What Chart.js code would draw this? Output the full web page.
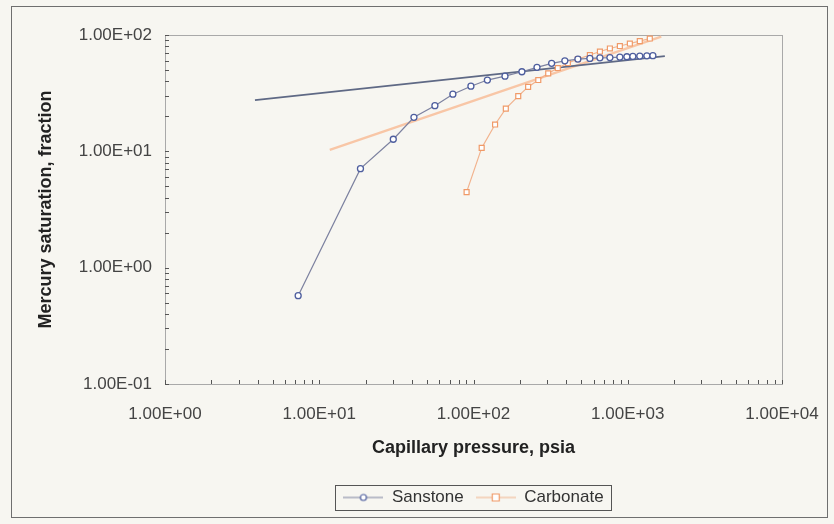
<!DOCTYPE html>
<html>
<head>
<meta charset="utf-8">
<script src="https://cdn.jsdelivr.net/npm/chart.js@4.4.1/dist/chart.umd.min.js"></script>
<style>
  html, body { margin: 0; padding: 0; background: #f7f6f1; }
</style>
</head>
<body>
<canvas id="myChart" width="834" height="524"></canvas>
<script>
// Sandstone mercury injection points (pressure psia, saturation)
const sandPressure = [7.3, 18.5, 30.2, 41.1, 56.2, 73.5, 96.2, 123, 160, 206, 258, 321, 391, 475, 568, 660, 766, 889, 987, 1079, 1197, 1330, 1455];
const sandSaturation = [0.574, 7.10, 12.7, 19.6, 24.7, 31.0, 36.3, 41.0, 44.3, 48.3, 52.7, 57.1, 60.0, 62.1, 62.9, 63.7, 64.0, 64.6, 65.0, 65.5, 65.9, 66.2, 66.4];

// Carbonate points
const carbPressure = [90.2, 113, 138, 162, 195, 226, 263, 305, 352, 409, 475, 568, 660, 766, 889, 1032, 1197, 1390];
const carbSaturation = [4.46, 10.7, 17.0, 23.3, 29.8, 35.8, 41.0, 46.8, 52.0, 57.4, 62.1, 67.3, 72.1, 76.6, 80.4, 84.5, 88.7, 93.3];

// power trendlines (straight on log-log), end points only
const sandTrendPressure = [3.83, 1740];
const sandTrendSaturation = [27.5, 65.9];
const carbTrendPressure = [11.7, 1650];
const carbTrendSaturation = [10.3, 97];

// axis decades
const xDecades = [1, 10, 100, 1000, 10000];
const yDecades = [0.1, 1, 10, 100];

const seriesNames = ['Sanstone', 'Carbonate'];

function toPoints(xs, ys) {
  return xs.map((x, i) => ({ x: x, y: ys[i] }));
}

// 1..9 times each decade
function logTicks(decades) {
  const out = [];
  decades.forEach((d, i) => {
    if (i === decades.length - 1) { out.push(d); return; }
    for (let k = 1; k <= 9; k++) out.push(+(d * k).toPrecision(6));
  });
  return out;
}
const xTickValues = logTicks(xDecades);
const yTickValues = logTicks(yDecades);

function decadeLabel(v, decades) {
  if (!decades.includes(v)) return '';
  const e = Math.round(Math.log10(v));
  return '1.00E' + (e < 0 ? '-' : '+') + String(Math.abs(e)).padStart(2, '0');
}

// small canvases for the legend: line with marker in the middle
function legendIcon(lineColor, markColor, shape) {
  const c = document.createElement('canvas');
  c.width = 40; c.height = 12;
  const g = c.getContext('2d');
  g.strokeStyle = lineColor;
  g.lineWidth = 1.2;
  g.beginPath(); g.moveTo(0, 6); g.lineTo(40, 6); g.stroke();
  g.fillStyle = '#ffffff';
  g.strokeStyle = markColor;
  g.beginPath();
  if (shape === 'circle') g.arc(20, 6, 3, 0, Math.PI * 2);
  else g.rect(16.5, 2.5, 7, 7);
  g.fill(); g.stroke();
  return c;
}

const sandLine = '#7d82a0', sandMark = '#4e5e9e', sandTrend = '#5f6985';
const carbLine = '#f2b38e', carbMark = '#f09a68', carbTrend = '#f8c6a6';

const icons = [legendIcon(sandLine, sandMark, 'circle'), legendIcon(carbLine, carbMark, 'rect')];

const decor = {
  id: 'decor',
  beforeDraw(chart) {
    const ctx = chart.ctx;
    ctx.save();
    ctx.fillStyle = '#f7f6f1';
    ctx.fillRect(0, 0, chart.width, chart.height);
    ctx.strokeStyle = '#6f6f6f';
    ctx.lineWidth = 1;
    ctx.strokeRect(11.5, 6.5, 816, 511);
    ctx.restore();
  },
  beforeDatasetsDraw(chart) {
    const a = chart.chartArea, ctx = chart.ctx;
    ctx.save();
    ctx.strokeStyle = '#a9a9a9';
    ctx.lineWidth = 1;
    ctx.strokeRect(a.left + 0.5, a.top + 0.5, a.right - a.left, a.bottom - a.top);
    ctx.restore();
  },
  afterDraw(chart) {
    const ctx = chart.ctx, a = chart.chartArea;
    const xs = chart.scales.x, ys = chart.scales.y;
    ctx.save();
    ctx.strokeStyle = '#555';
    ctx.lineWidth = 1;
    ctx.beginPath();
    xTickValues.forEach(v => {
      const px = Math.round(xs.getPixelForValue(v)) + 0.5;
      ctx.moveTo(px, a.bottom); ctx.lineTo(px, a.bottom - 4);
    });
    yTickValues.forEach(v => {
      const py = Math.round(ys.getPixelForValue(v)) + 0.5;
      ctx.moveTo(a.left, py); ctx.lineTo(a.left + 4, py);
    });
    ctx.stroke();
    // frame round the legend
    const boxes = chart.legend.legendHitBoxes;
    if (boxes && boxes.length) {
      let l = Infinity, r = -Infinity, t = Infinity, b = -Infinity;
      boxes.forEach(h => {
        l = Math.min(l, h.left); r = Math.max(r, h.left + h.width);
        t = Math.min(t, h.top); b = Math.max(b, h.top + h.height);
      });
      ctx.strokeStyle = '#555';
      ctx.strokeRect(Math.round(l - 8) + 0.5, Math.round(t - 4) + 0.5, Math.round(r - l + 16), Math.round(b - t + 8));
    }
    ctx.restore();
  }
};

const ctx = document.getElementById('myChart').getContext('2d');

const chart = new Chart(ctx, {
  type: 'scatter',
  data: {
    datasets: [
      {
        label: seriesNames[0],
        data: toPoints(sandPressure, sandSaturation),
        showLine: true,
        borderColor: sandLine,
        borderWidth: 1.2,
        pointStyle: 'circle',
        pointRadius: 3,
        pointBorderColor: sandMark,
        pointBackgroundColor: '#ffffff',
        pointBorderWidth: 1.3,
        order: 1
      },
      {
        label: seriesNames[1],
        data: toPoints(carbPressure, carbSaturation),
        showLine: true,
        borderColor: carbLine,
        borderWidth: 1.2,
        pointStyle: 'rect',
        pointRadius: 3.5,
        pointBorderColor: carbMark,
        pointBackgroundColor: '#ffffff',
        pointBorderWidth: 1.2,
        order: 2
      },
      {
        label: 'sand trend',
        data: toPoints(sandTrendPressure, sandTrendSaturation),
        showLine: true,
        borderColor: sandTrend,
        borderWidth: 1.8,
        pointRadius: 0,
        order: 3
      },
      {
        label: 'carb trend',
        data: toPoints(carbTrendPressure, carbTrendSaturation),
        showLine: true,
        borderColor: carbTrend,
        borderWidth: 2.4,
        pointRadius: 0,
        order: 4
      }
    ]
  },
  options: {
    responsive: false,
    animation: false,
    events: [],
    layout: { padding: { left: 14, right: 52, top: 35, bottom: 8 } },
    plugins: {
      tooltip: { enabled: false },
      legend: {
        position: 'bottom',
        fullSize: false,
        labels: {
          color: '#333',
          font: { family: 'Liberation Sans, Arial', size: 17 },
          usePointStyle: true,
          pointStyleWidth: 40,
          boxHeight: 12,
          padding: 12,
          filter: item => item.datasetIndex < 2,
          generateLabels: ch => ch.data.datasets.slice(0, 2).map((d, i) => ({
            text: d.label,
            pointStyle: icons[i],
            datasetIndex: i,
            fontColor: '#333',
            lineWidth: 0,
            hidden: false
          }))
        }
      }
    },
    scales: {
      x: {
        type: 'logarithmic',
        min: 1,
        max: 10000,
        afterBuildTicks: s => { s.ticks = xTickValues.map(v => ({ value: v, major: xDecades.includes(v) })); },
        afterFit: s => { s.height = 93; s.paddingRight = 20; },
        grid: { display: false, drawTicks: false },
        border: { display: true, color: '#555', width: 1 },
        ticks: {
          autoSkip: false,
          maxRotation: 0,
          padding: 20,
          color: '#444',
          font: { family: 'Liberation Sans, Arial', size: 17 },
          callback: v => decadeLabel(v, xDecades)
        },
        title: {
          display: true,
          text: 'Capillary pressure, psia',
          color: '#222',
          font: { family: 'Liberation Sans, Arial', size: 18, weight: 'bold' },
          padding: { top: 14, bottom: 18 }
        }
      },
      y: {
        type: 'logarithmic',
        min: 0.1,
        max: 100,
        afterBuildTicks: s => { s.ticks = yTickValues.map(v => ({ value: v, major: yDecades.includes(v) })); },
        afterFit: s => { s.width = 151; },
        grid: { display: false, drawTicks: false },
        border: { display: true, color: '#555', width: 1 },
        ticks: {
          autoSkip: false,
          padding: 13,
          color: '#444',
          font: { family: 'Liberation Sans, Arial', size: 17 },
          callback: v => decadeLabel(v, yDecades)
        },
        title: {
          display: true,
          text: 'Mercury saturation, fraction',
          color: '#222',
          font: { family: 'Liberation Sans, Arial', size: 18, weight: 'bold' },
          padding: { top: 21, bottom: 0 }
        }
      }
    }
  },
  plugins: [decor]
});
</script>
</body>
</html>
